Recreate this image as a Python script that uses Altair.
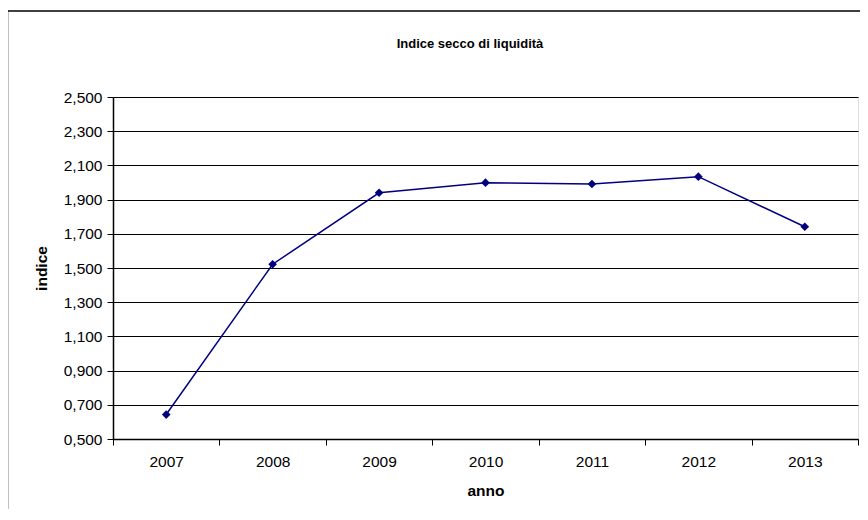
import altair as alt
import pandas as pd

years = ["2007", "2008", "2009", "2010", "2011", "2012", "2013"]
values = [0.643, 1.522, 1.940, 1.999, 1.991, 2.034, 1.741]
y_ticks = [0.5, 0.7, 0.9, 1.1, 1.3, 1.5, 1.7, 1.9, 2.1, 2.3, 2.5]
title_text = "Indice secco di liquidità"
x_title = "anno"
y_title = "indice"

df = pd.DataFrame({"anno": years, "indice": values})
one = pd.DataFrame({"t": [title_text]})

FONT = "Liberation Sans"

x_enc = alt.X(
    "anno:O",
    sort=years,
    scale=alt.Scale(paddingInner=0, paddingOuter=0),
    axis=alt.Axis(
        title=x_title,
        labelAngle=0,
        labelFontSize=15.5,
        labelFont=FONT,
        labelColor="black",
        labelPadding=9,
        labelOverlap=False,
        titleFont=FONT,
        titleFontSize=15.5,
        titleFontWeight="bold",
        titleColor="black",
        titlePadding=14,
        tickBand="extent",
        tickSize=6,
        tickColor="black",
        domainColor="black",
        domainWidth=1.5,
        grid=False,
    ),
)
y_enc = alt.Y(
    "indice:Q",
    scale=alt.Scale(domain=[0.5, 2.5], nice=False, zero=False),
    axis=alt.Axis(
        title=y_title,
        values=y_ticks,
        labelExpr="replace(format(datum.value, '.3f'), '.', ',')",
        labelFontSize=15.5,
        labelFont=FONT,
        labelColor="black",
        labelPadding=5,
        labelOverlap=False,
        labelFlush=False,
        titleFont=FONT,
        titleFontSize=15.5,
        titleFontWeight="bold",
        titleColor="black",
        titlePadding=14,
        tickSize=6,
        tickColor="black",
        domainColor="black",
        domainWidth=1.5,
        grid=True,
        gridColor="black",
        gridWidth=1,
        gridOpacity=1,
    ),
)

base = alt.Chart(df)

line = base.mark_line(color="#000080", strokeWidth=1.5).encode(x=x_enc, y=y_enc)
points = base.mark_point(
    shape="diamond", filled=True, color="#000080", size=75, opacity=1
).encode(x=x_enc, y=y_enc)

border = alt.Chart(one).mark_rect(
    fill=None, stroke="black", strokeWidth=1.5
).encode(
    x=alt.value(-105.5), x2=alt.value(770), y=alt.value(-86), y2=alt.value(440)
)

title_mark = alt.Chart(one).mark_text(
    font=FONT, fontSize=13, fontWeight="bold", color="black",
    align="center", baseline="middle",
).encode(text="t:N", x=alt.value(357), y=alt.value(-53))

chart = (
    alt.layer(line, points, border, title_mark)
    .properties(
        width=745,
        height=342,
        autosize=alt.AutoSizeParams(type="none"),
        padding={"left": 105, "top": 89, "right": 2, "bottom": 70},
    )
    .configure_view(stroke="black", strokeWidth=1.5)
    .configure(background="white")
)

chart.save("out.html", embed_options={"renderer": "svg", "actions": False})
